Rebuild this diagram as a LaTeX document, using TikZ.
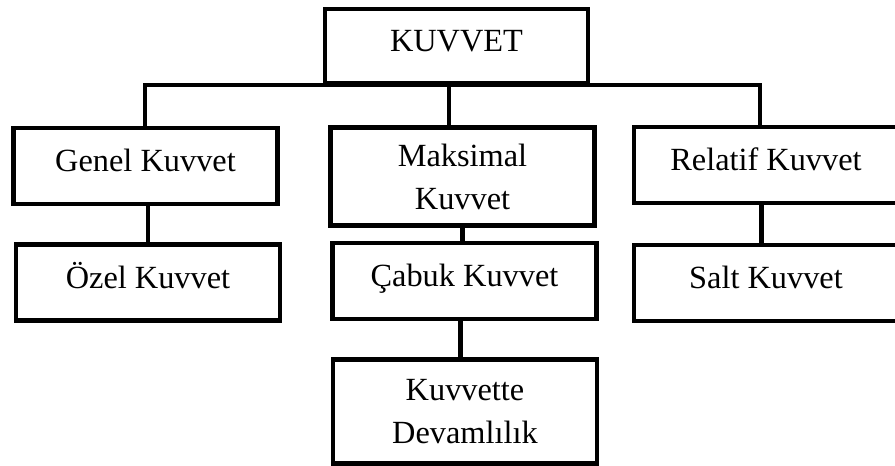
\documentclass[tikz,border=0pt]{standalone}
\usepackage{fontspec}
\setmainfont{Liberation Serif}
\usepackage{tikz}

\begin{document}
\begin{tikzpicture}[x=0.025cm, y=-0.025cm,
		box/.style={draw, line width=3.4pt, minimum width=6.6cm, align=center, inner sep=0pt,
			font=\fontsize{23}{30.5}\selectfont},
		single/.style={box, minimum height=1.9cm, text height=0.55cm, text depth=0.26cm},
		conn/.style={line width=3.4pt}]
			\useasboundingbox (0, 0) rectangle (895, 466);
			\clip (0, 0) rectangle (895, 466);
			
			\node[single, minimum width=6.575cm, minimum height=1.85cm] (kuvvet) at (456.5, 46) {KUVVET};
			
			\node[single] (genel) at (145.5, 166) {Genel Kuvvet};
			\node[box, minimum height=2.43cm] (maks) at (462.5, 176.5) {Maksimal\\Kuvvet};
			\node[single] (relatif) at (766, 165) {Relatif Kuvvet};
			
			\node[single] (ozel) at (148, 282.5) {Özel Kuvvet};
			\node[single] (cabuk) at (464.5, 281) {Çabuk Kuvvet};
			\node[single] (salt) at (766, 283) {Salt Kuvvet};
			
			\node[box, minimum height=2.58cm] (devam) at (465, 411.5) {Kuvvette\\Devamlılık};
			
			\coordinate (bl) at (145, 85);
			\coordinate (bm) at (449, 85);
			\coordinate (br) at (760, 85);
			
			\draw[conn] (bl |- genel.north) -- (bl) -- (br) -- (br |- relatif.north);
			\draw[conn] (bm) -- (bm |- maks.north);
			\draw[conn] (ozel.north) -- (ozel.north |- genel.south);
			\draw[conn] ([xshift=-3pt]salt.north) -- ([xshift=-3pt]salt.north |- relatif.south);
			\draw[conn] (maks.south) -- (maks.south |- cabuk.north);
			\draw[conn] ([xshift=-3pt]devam.north) -- ([xshift=-3pt]devam.north |- cabuk.south);
		\end{tikzpicture}
\end{document}
